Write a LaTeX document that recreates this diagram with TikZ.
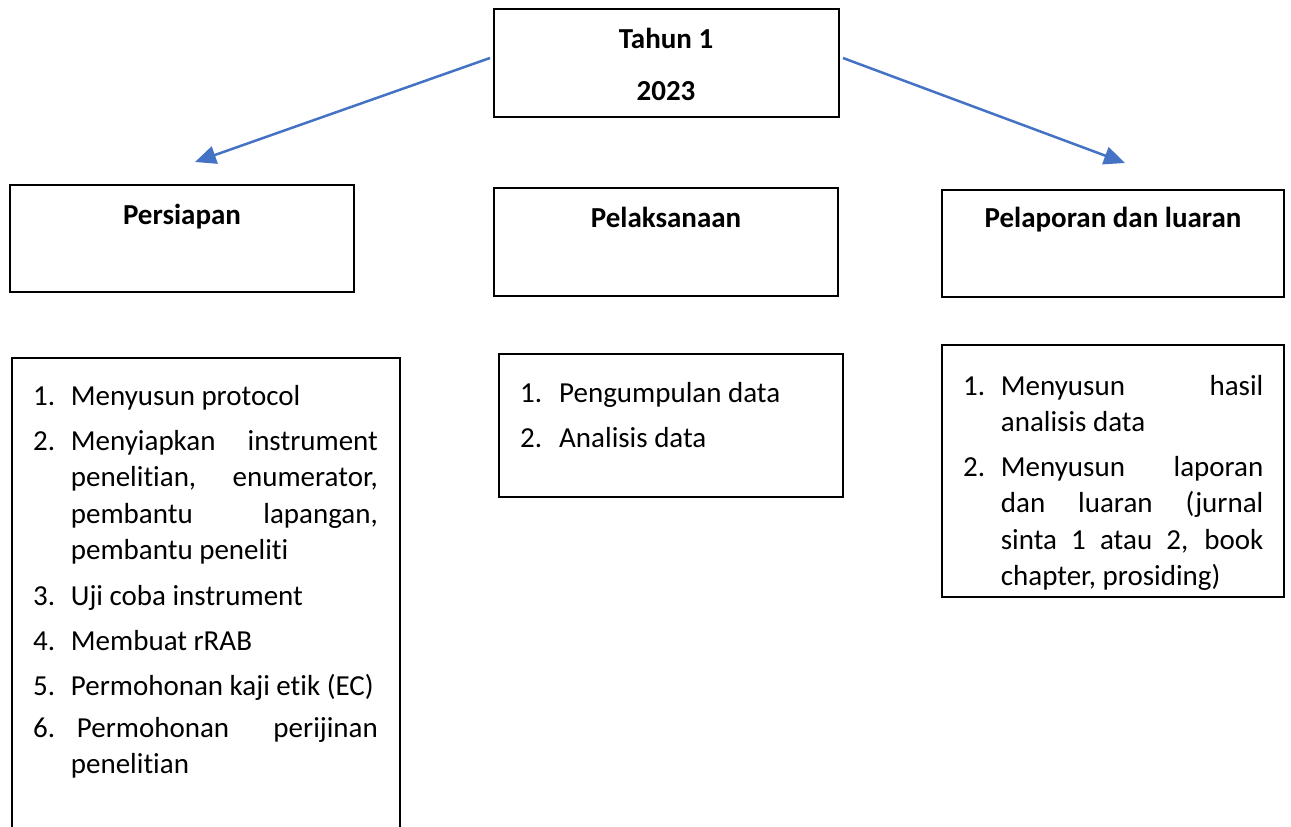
\documentclass[tikz,border=0pt]{standalone}
\usepackage{fontspec}
\setmainfont{Carlito}[Ligatures=NoCommon]
\usetikzlibrary{arrows.meta}
\definecolor{arrowblue}{HTML}{4472C4}
\begin{document}
\begin{tikzpicture}[x=1pt,y=-1pt,
  box/.style={draw=black, line width=2.7pt, inner sep=0pt},
  head/.style={font=\fontsize{29}{35}\selectfont\bfseries, anchor=base, inner sep=0pt},
  num/.style={font=\fontsize{29}{36.5}\selectfont, anchor=base west, inner sep=0pt},
  itemtext/.style={font=\fontsize{29}{36.5}\selectfont, anchor=base west, inner sep=0pt, align=justify},
  conn/.style={draw=arrowblue, line width=2.5pt, -{Triangle[length=21pt,width=18pt]}}]

\useasboundingbox (0,0) rectangle (1291,827);

% boxes
\node[box, minimum width=345, minimum height=108] (top) at (666.5,63) {};
\node[box, minimum width=344, minimum height=107] (persiapan) at (182,238.5) {};
\node[box, minimum width=344, minimum height=108] (pelaksanaan) at (666,242) {};
\node[box, minimum width=342, minimum height=107] (pelaporan) at (1113,243.5) {};
\node[box, minimum width=388, minimum height=492] (listL) at (206,604) {};
\node[box, minimum width=344, minimum height=143] (listM) at (671,425.5) {};
\node[box, minimum width=342, minimum height=252] (listR) at (1113,471) {};

% headings
\node[head] (t1) at (666,48) {Tahun 1};
\node[head] (t2) at (666,100) {2023};
\node[head] (h1) at (182,224) {Persiapan};
\node[head] (h2) at (666,227) {Pelaksanaan};
\node[head] (h3) at (1113,227) {Pelaporan dan luaran};

% left list
\node[num] (l1n) at (33,405) {1.};
\node[itemtext, text width=307] (l1) at (70.7,405) {Menyusun protocol};
\node[num] (l2n) at (33,450) {2.};
\node[itemtext, text width=307] (l2) at (70.7,450) {Menyiapkan instrument\linebreak penelitian, enumerator,\linebreak pembantu lapangan,\linebreak pembantu peneliti};
\node[num] (l3n) at (33,605) {3.};
\node[itemtext, text width=307] (l3) at (70.7,605) {Uji coba instrument};
\node[num] (l4n) at (33,650) {4.};
\node[itemtext, text width=307] (l4) at (70.7,650) {Membuat rRAB};
\node[num] (l5n) at (33,695) {5.};
\node[itemtext, text width=307] (l5) at (70.7,695) {Permohonan kaji etik (EC)};
\node[num] (l6n) at (33,737) {6.};
\node[itemtext, text width=307] (l6) at (70.7,737) {\hspace*{6pt}Permohonan perijinan\linebreak penelitian};

% middle list
\node[num] (m1n) at (520,402) {1.};
\node[itemtext, text width=270] (m1) at (559,402) {Pengumpulan data};
\node[num] (m2n) at (520,447) {2.};
\node[itemtext, text width=270] (m2) at (559,447) {Analisis data};

% right list
\node[num] (r1n) at (963,395) {1.};
\node[itemtext, text width=262.5] (r1) at (1000.7,395) {Menyusun hasil\linebreak analisis data};
\node[num] (r2n) at (963,476) {2.};
\node[itemtext, text width=262.5] (r2) at (1000.7,476) {Menyusun laporan\linebreak dan luaran (jurnal\linebreak sinta 1 atau 2, book\linebreak chapter, prosiding)};

% arrows
\coordinate (s1) at (490,58);
\coordinate (e1) at (195,162);
\coordinate (s2) at (843,58);
\coordinate (e2) at (1125,163);
\draw[conn] (s1) -- (e1);
\draw[conn] (s2) -- (e2);
\end{tikzpicture}
\end{document}
